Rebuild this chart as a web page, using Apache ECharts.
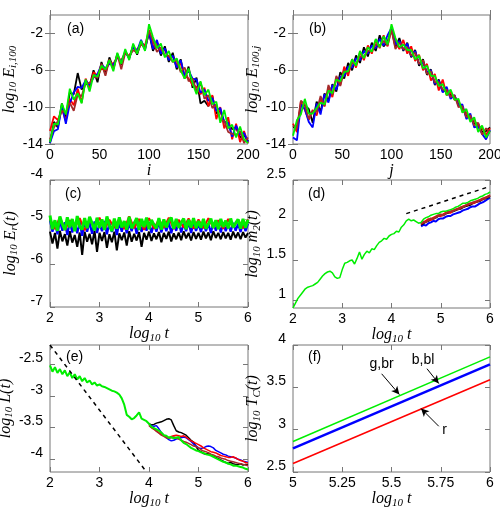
<!DOCTYPE html>
<html>
<head>
<meta charset="utf-8">
<script src="https://cdn.jsdelivr.net/npm/echarts@6/dist/echarts.min.js"></script>
<style>
  html, body { margin: 0; padding: 0; background: #fff; }
  #chart { width: 500px; height: 525px; }
</style>
</head>
<body>
<div id="chart"></div>
<script>
// ---- sample positions ----
const iIdx = [0,4,8,12,16,20,24,28,32,36,40,44,48,52,56,60,64,68,72,76,80,84,88,92,96,100,104,108,112,116,120,124,128,132,136,140,144,148,152,156,160,164,168,172,176,180,184,188,192,196,200];
const tFine = [2,2.05,2.1,2.15,2.2,2.25,2.3,2.35,2.4,2.45,2.5,2.55,2.6,2.65,2.7,2.75,2.8,2.85,2.9,2.95,3,3.05,3.1,3.15,3.2,3.25,3.3,3.35,3.4,3.45,3.5,3.55,3.6,3.65,3.7,3.75,3.8,3.85,3.9,3.95,4,4.05,4.1,4.15,4.2,4.25,4.3,4.35,4.4,4.45,4.5,4.55,4.6,4.65,4.7,4.75,4.8,4.85,4.9,4.95,5,5.05,5.1,5.15,5.2,5.25,5.3,5.35,5.4,5.45,5.5,5.55,5.6,5.65,5.7,5.75,5.8,5.85,5.9,5.95,6];
const tCoarse = tFine.filter((_, k) => k % 2 === 0);
const tLateD = tFine.slice(52);
const tLateE = tFine.slice(40);

// ---- (a) log10 E_{i,100} ----
const aBlack = [-13.9,-11.6,-12.2,-9.6,-11.2,-8.4,-8.6,-6.3,-8.1,-7.4,-7.7,-6.0,-7.3,-5.1,-6.4,-4.6,-5.8,-4.2,-5.4,-3.9,-4.7,-3.3,-4.3,-2.9,-3.6,-1.9,-3.9,-3.0,-4.4,-3.4,-5.1,-4.1,-5.9,-4.8,-6.9,-5.6,-7.9,-6.8,-9.6,-9.3,-9.9,-8.8,-10.7,-10.4,-11.6,-11.8,-12.4,-12.2,-13.3,-13.0,-13.7];
const aRed = [-12.6,-11.0,-11.4,-10.2,-11.5,-9.1,-9.8,-8.0,-9.5,-6.9,-7.9,-6.2,-6.6,-5.8,-6.0,-5.1,-5.3,-4.6,-4.9,-4.1,-4.5,-3.5,-3.8,-3.0,-3.3,-1.6,-3.4,-3.1,-3.9,-3.8,-4.7,-4.5,-5.4,-5.3,-6.6,-6.9,-7.6,-7.8,-8.6,-7.9,-9.9,-8.7,-11.3,-10.0,-12.3,-11.1,-13.5,-11.8,-13.8,-12.6,-13.9];
const aBlue = [-13.9,-12.6,-12.4,-9.8,-11.8,-9.6,-8.4,-7.8,-7.9,-7.1,-7.6,-6.8,-6.4,-5.4,-5.8,-5.3,-5.4,-4.6,-5.1,-4.0,-4.7,-3.5,-3.9,-2.7,-3.8,-1.8,-3.7,-2.7,-4.2,-3.6,-4.9,-4.4,-5.7,-4.9,-6.6,-6.0,-6.9,-7.0,-8.4,-8.1,-9.3,-9.0,-10.4,-10.1,-11.6,-11.7,-13.2,-12.0,-13.0,-12.8,-13.8];
const aBrown = [-13.5,-12.2,-11.5,-10.4,-10.6,-9.5,-10.4,-8.6,-8.8,-7.4,-7.4,-6.7,-6.8,-5.3,-6.6,-4.8,-5.9,-4.3,-5.9,-4.1,-4.5,-3.8,-4.1,-3.1,-3.7,-1.7,-2.8,-4.0,-3.5,-4.4,-4.4,-5.1,-4.9,-6.2,-5.7,-7.2,-6.9,-8.3,-7.3,-9.1,-8.7,-10.1,-9.7,-11.4,-11.5,-12.7,-12.9,-13.0,-12.6,-13.9,-13.3];
const aGreen = [-13.8,-11.8,-11.9,-9.6,-10.8,-8.0,-9.2,-8.5,-9.6,-7.0,-8.3,-6.5,-6.7,-5.5,-5.9,-4.9,-6.1,-4.1,-5.3,-3.7,-4.9,-3.1,-4.2,-2.8,-3.9,-1.0,-2.4,-3.6,-3.1,-4.6,-3.9,-5.1,-4.7,-6.0,-6.9,-5.8,-7.4,-8.6,-7.2,-8.7,-8.1,-9.7,-9.4,-11.7,-10.3,-12.3,-11.9,-13.3,-12.1,-13.5,-13.9];

// ---- (b) log10 E_{100,j} ----
const bBlack = [-12.2,-12.1,-9.9,-9.8,-10.2,-11.7,-9.4,-10.5,-8.5,-9.3,-7.5,-8.3,-6.2,-6.9,-5.2,-6.0,-4.4,-5.2,-3.5,-4.5,-3.0,-3.9,-2.2,-3.4,-2.9,-1.5,-3.5,-2.5,-3.9,-3.0,-4.6,-3.8,-5.5,-4.8,-6.5,-5.9,-7.6,-7.0,-8.3,-8.2,-8.7,-8.8,-9.7,-10.0,-11.0,-11.0,-11.8,-11.8,-12.7,-12.6,-12.2];
const bRed = [-11.8,-12.7,-9.4,-10.3,-11.4,-10.3,-10.9,-9.1,-9.9,-8.0,-8.9,-6.9,-7.6,-5.6,-6.6,-4.8,-5.7,-4.0,-4.9,-3.3,-4.2,-2.7,-3.6,-2.2,-3.4,-1.4,-2.8,-3.7,-2.7,-4.2,-3.4,-5.0,-4.3,-6.0,-5.3,-7.1,-6.4,-8.2,-7.0,-8.7,-8.4,-9.2,-9.3,-10.4,-10.6,-11.4,-11.4,-12.2,-12.3,-13.0,-12.3];
const bBlue = [-13.3,-13.6,-9.7,-10.2,-11.6,-12.2,-9.6,-10.8,-8.6,-9.5,-7.6,-8.1,-6.7,-6.6,-5.6,-5.7,-4.7,-4.9,-3.9,-4.2,-3.3,-3.6,-2.6,-3.3,-2.2,-1.4,-3.2,-2.8,-3.8,-3.1,-4.5,-3.9,-5.3,-5.2,-6.2,-6.0,-7.5,-7.1,-8.4,-7.8,-9.1,-8.7,-9.8,-9.7,-11.3,-10.7,-12.2,-12.1,-12.9,-13.5,-12.5];
const bBrown = [-12.0,-12.3,-9.3,-9.7,-11.3,-10.4,-10.5,-8.8,-9.9,-7.6,-8.7,-6.6,-7.7,-6.0,-6.2,-5.2,-5.3,-4.5,-4.5,-3.9,-3.9,-3.2,-3.3,-2.8,-3.3,-1.6,-3.7,-3.0,-3.7,-3.5,-4.4,-4.1,-5.3,-4.9,-6.4,-6.1,-7.3,-7.3,-8.1,-8.1,-8.9,-8.7,-10.0,-9.9,-11.1,-10.9,-12.0,-11.7,-13.0,-12.3,-12.7];
const bGreen = [-13.1,-11.4,-10.8,-9.1,-10.7,-10.7,-10.1,-9.5,-9.7,-8.2,-8.5,-7.0,-7.2,-6.2,-6.1,-4.8,-5.5,-3.9,-4.7,-3.5,-4.0,-2.6,-3.5,-2.3,-3.2,-1.0,-2.5,-3.5,-3.2,-3.8,-3.8,-4.8,-4.4,-5.8,-5.5,-6.6,-6.6,-7.7,-7.5,-8.7,-8.1,-9.2,-9.1,-10.6,-10.2,-11.6,-11.1,-12.7,-12.0,-13.3,-12.6];

// ---- (c) log10 E_r(t) ----
const cBlack = [-5.22,-5.50,-5.25,-5.62,-5.20,-5.45,-5.28,-5.55,-5.21,-5.48,-5.30,-5.58,-5.24,-5.77,-5.22,-5.46,-5.27,-5.52,-5.20,-5.70,-5.25,-5.44,-5.23,-5.60,-5.28,-5.47,-5.22,-5.66,-5.26,-5.42,-5.24,-5.55,-5.21,-5.46,-5.27,-5.43,-5.23,-5.58,-5.25,-5.41,-5.22,-5.44,-5.26,-5.40,-5.23,-5.47,-5.25,-5.39,-5.22,-5.45,-5.26,-5.40,-5.24,-5.42,-5.21,-5.38,-5.25,-5.43,-5.23,-5.39,-5.25,-5.41,-5.22,-5.38,-5.24,-5.42,-5.21,-5.37,-5.25,-5.40,-5.23,-5.38,-5.25,-5.41,-5.22,-5.37,-5.24,-5.40,-5.23,-5.36,-5.25];
const cBlue = [-4.95,-5.22,-4.98,-5.28,-4.96,-5.20,-5.00,-5.30,-4.97,-5.24,-5.01,-5.26,-4.99,-5.32,-4.96,-5.22,-5.00,-5.27,-4.98,-5.25,-5.02,-5.21,-4.97,-5.28,-5.01,-5.23,-4.99,-5.30,-5.00,-5.22,-4.98,-5.26,-5.02,-5.21,-4.99,-5.27,-5.01,-5.23,-4.98,-5.20,-5.00,-5.25,-5.03,-5.22,-4.99,-5.24,-5.02,-5.21,-5.00,-5.26,-5.02,-5.20,-4.99,-5.24,-5.03,-5.21,-5.00,-5.25,-5.02,-5.20,-5.04,-5.23,-5.00,-5.21,-5.03,-5.25,-5.01,-5.20,-5.02,-5.24,-5.00,-5.21,-5.04,-5.22,-5.01,-5.20,-5.03,-5.23,-5.02,-5.21,-5.03];
const cRed = [-4.92,-5.16,-4.88,-5.18,-4.95,-5.14,-4.90,-5.19,-4.93,-5.15,-4.89,-5.17,-4.94,-5.13,-4.91,-5.16,-4.86,-5.14,-4.92,-5.18,-4.90,-5.15,-4.93,-5.13,-4.89,-5.16,-4.94,-5.12,-4.91,-5.15,-4.93,-5.14,-4.90,-5.13,-4.95,-5.15,-4.92,-5.12,-4.94,-5.14,-4.93];
const cGreen = [-4.84,-5.16,-4.95,-5.20,-4.86,-5.05,-5.18,-4.88,-5.12,-4.92,-5.21,-4.85,-5.10,-5.17,-4.90,-5.14,-4.87,-5.02,-5.19,-4.89,
  -5.13,-4.93,-5.18,-4.86,-5.08,-5.21,-4.91,-5.15,-4.88,-5.12,-4.97,-5.17,-4.87,-5.14,-5.03,-4.90,-5.18,-4.92,-5.11,-4.89,
  -5.16,-4.94,-5.06,-5.14,-4.90,-5.17,-4.93,-5.12,-4.96,-4.89,-5.15,-4.92,-5.13,-5.01,-4.91,-5.16,-4.94,-5.12,-4.90,-5.14,
  -4.97,-5.13,-4.92,-5.15,-5.04,-4.91,-5.13,-4.95,-5.16,-4.92,-5.11,-4.96,-5.14,-4.91,-5.12,-5.02,-4.93,-5.15,-4.92,-5.13,
  -4.94];

// ---- (d) log10 m2(t) ----
const dGreen = [0.90,0.96,1.02,1.06,1.10,1.14,1.16,1.17,1.18,1.20,1.22,1.26,1.30,1.33,1.35,1.36,1.34,1.29,1.27,1.28,1.38,1.46,1.47,1.49,1.50,1.45,1.52,1.60,1.51,1.57,1.61,1.59,1.64,1.63,1.68,1.72,1.74,1.77,1.76,1.80,1.82,1.83,1.86,1.85,1.91,1.94,1.99,2.01,1.99,2.00,1.98,1.96,1.97,2.01,2.03,2.04,2.06,2.07,2.08,2.08,2.10,2.11,2.11,2.12,2.13,2.14,2.16,2.17,2.19,2.21,2.21,2.22,2.24,2.25,2.26,2.27,2.29,2.30,2.32,2.33,2.35];
const dBlue = [1.92,1.94,1.93,1.96,1.97,1.99,1.98,2.01,2.02,2.02,2.04,2.05,2.05,2.07,2.08,2.09,2.10,2.12,2.13,2.14,2.16,2.17,2.17,2.19,2.21,2.22,2.24,2.26,2.28];
const dRed = [1.95,1.97,1.99,2.01,2.00,2.03,2.04,2.06,2.05,2.07,2.09,2.10,2.09,2.12,2.13,2.14,2.15,2.17,2.18,2.19,2.21,2.21,2.22,2.24,2.25,2.26,2.28,2.29,2.31];
const dBlack = [1.94,1.96,1.98,1.99,2.01,2.02,2.03,2.05,2.06,2.06,2.08,2.09,2.10,2.11,2.12,2.14,2.14,2.16,2.17,2.18,2.19,2.21,2.22,2.23,2.24,2.26,2.27,2.28,2.30];
const dBrown = [1.95,1.98,1.97,2.00,2.02,2.01,2.04,2.05,2.07,2.06,2.08,2.10,2.11,2.11,2.13,2.13,2.16,2.16,2.18,2.20,2.20,2.22,2.23,2.23,2.25,2.27,2.27,2.29,2.30];
const dFitX = [4.3, 6];
const dFitY = [2.08, 2.42];

// ---- (e) log10 L(t) ----
const eGreen = [-2.52,-2.62,-2.55,-2.64,-2.58,-2.66,-2.60,-2.69,-2.63,-2.72,-2.66,-2.74,-2.69,-2.77,-2.72,-2.79,-2.76,-2.82,-2.79,-2.84,-2.82,-2.85,-2.86,-2.88,-2.90,-2.92,-2.93,-2.95,-2.98,-3.04,-3.14,-3.30,-3.33,-3.37,-3.35,-3.31,-3.26,-3.36,-3.38,-3.40,-3.44,-3.49,-3.51,-3.53,-3.55,-3.58,-3.62,-3.63,-3.66,-3.65,-3.67,-3.66,-3.65,-3.70,-3.74,-3.76,-3.79,-3.82,-3.84,-3.86,-3.87,-3.89,-3.90,-3.92,-3.93,-3.94,-3.96,-3.98,-4.00,-4.02,-4.04,-4.05,-4.07,-4.08,-4.10,-4.10,-4.11,-4.12,-4.13,-4.15,-4.16];
const eBlack = [-3.44,-3.46,-3.45,-3.43,-3.42,-3.41,-3.39,-3.37,-3.36,-3.38,-3.47,-3.55,-3.57,-3.58,-3.60,-3.62,-3.66,-3.70,-3.73,-3.80,-3.86,-3.88,-3.91,-3.92,-3.90,-3.93,-3.95,-3.97,-3.99,-4.01,-4.03,-4.05,-4.06,-4.05,-4.07,-4.08,-4.08,-4.07,-4.09,-4.08,-4.09];
const eBlue = [-3.45,-3.47,-3.48,-3.47,-3.52,-3.58,-3.62,-3.66,-3.69,-3.71,-3.70,-3.68,-3.67,-3.66,-3.65,-3.66,-3.69,-3.72,-3.76,-3.79,-3.82,-3.83,-3.82,-3.80,-3.79,-3.80,-3.82,-3.86,-3.88,-3.90,-3.92,-3.93,-3.95,-3.96,-3.97,-3.98,-4.00,-4.01,-4.03,-4.04,-4.05];
const eRed = [-3.46,-3.50,-3.53,-3.55,-3.58,-3.61,-3.63,-3.65,-3.66,-3.64,-3.63,-3.62,-3.63,-3.64,-3.63,-3.65,-3.68,-3.71,-3.73,-3.75,-3.77,-3.79,-3.82,-3.84,-3.86,-3.88,-3.89,-3.90,-3.92,-3.94,-3.95,-3.96,-3.97,-3.97,-3.96,-3.98,-4.00,-4.02,-4.03,-4.05,-4.06];
const eBrown = [-3.47,-3.50,-3.52,-3.56,-3.59,-3.62,-3.64,-3.66,-3.67,-3.66,-3.65,-3.66,-3.68,-3.70,-3.72,-3.73,-3.75,-3.77,-3.79,-3.80,-3.82,-3.85,-3.87,-3.88,-3.90,-3.92,-3.93,-3.95,-3.96,-3.98,-3.99,-4.00,-4.02,-4.03,-4.04,-4.05,-4.06,-4.07,-4.08,-4.09,-4.10];
const eFitX = [2, 3.95];
const eFitY = [-2.2, -4.2];

// ---- (f) log10 T_C(t) ----
const fX = [5, 6];
const fGreen = [2.86, 3.86];
const fBlue = [2.78, 3.77];
const fRed = [2.60, 3.59];
const noteText = ['g,br', 'b,bl', 'r'];
const noteX = [5.45, 5.66, 5.77];
const noteY = [3.77, 3.82, 2.99];
const arrowFromX = [5.45, 5.68, 5.74];
const arrowFromY = [3.66, 3.72, 3.04];
const arrowToX = [5.54, 5.74, 5.65];
const arrowToY = [3.415, 3.545, 3.25];

// ---- tick labels ----
const ticksI = [0, 50, 100, 150, 200];
const ticksE = [-14, -10, -6, -2];
const ticksT = [2, 3, 4, 5, 6];
const ticksC = [-7, -6, -5, -4];
const ticksD = [1, 1.5, 2, 2.5];
const ticksL = [-4, -3.5, -3, -2.5];
const ticksFx = [5, 5.25, 5.5, 5.75, 6];
const ticksFy = [2.5, 3, 3.5, 4];
const panelNames = ['(a)', '(b)', '(c)', '(d)', '(e)', '(f)'];

const BLACK = '#000000', RED = '#ff0000', BLUE = '#0000ff', BROWN = '#a52a2a', GREEN = '#00ee00';

const chart = echarts.init(document.getElementById('chart'), null, { renderer: 'canvas' });

const rich = {
  it: { fontFamily: 'Liberation Serif', fontStyle: 'italic', fontSize: 16, color: '#000' },
  sub: { fontFamily: 'Liberation Serif', fontStyle: 'italic', fontSize: 11, color: '#000', padding: [8, 0, 0, 0] }
};
const tName = '{it|log}{sub|10}{it| t}';

const grids = [
  { left: 50, top: 15, width: 198, height: 129 },
  { left: 293, top: 15, width: 197, height: 129 },
  { left: 50, top: 180, width: 198, height: 127 },
  { left: 293, top: 180, width: 197, height: 128 },
  { left: 50, top: 345, width: 198, height: 127 },
  { left: 293, top: 345, width: 197, height: 127 }
].map(g => Object.assign(g, { show: true, borderColor: '#777', borderWidth: 1, backgroundColor: 'transparent', containLabel: false, outerBoundsMode: 'none' }));

const frame = '#777';
function xAxis(g, min, max, ticks, name, gap, mirror) {
  return {
    type: 'value', gridIndex: g, min: min, max: max, position: mirror ? 'top' : 'bottom',
    name: mirror ? '' : name, nameLocation: 'middle', nameGap: gap,
    nameTextStyle: { rich: rich },
    axisLine: { show: false }, splitLine: { show: false },
    axisTick: { show: true, inside: true, length: 5, customValues: ticks, lineStyle: { color: frame } },
    axisLabel: { show: !mirror, customValues: ticks, fontFamily: 'Liberation Sans', fontSize: 14, color: '#000', margin: 4 }
  };
}
function yAxis(g, min, max, ticks, name, gap, lifted, mirror) {
  const label = { show: !mirror, customValues: ticks, fontFamily: 'Liberation Sans', fontSize: 14, color: '#000', margin: 7 };
  if (lifted) { label.verticalAlign = 'bottom'; label.lineHeight = 12; }
  return {
    type: 'value', gridIndex: g, min: min, max: max, position: mirror ? 'right' : 'left',
    name: mirror ? '' : name, nameLocation: 'middle', nameGap: gap, nameRotate: 90,
    nameTextStyle: { rich: rich },
    axisLine: { show: false }, splitLine: { show: false },
    axisTick: { show: true, inside: true, length: 5, customValues: ticks, lineStyle: { color: frame } },
    axisLabel: label
  };
}

const xSpec = [
  [0, 200, ticksI, '{it|i}', 2],
  [0, 200, ticksI, '{it|j}', 2],
  [2, 6, ticksT, tName, 7],
  [2, 6, ticksT, tName, 7],
  [2, 6, ticksT, tName, 7],
  [5, 6, ticksFx, tName, 7]
];
const ySpec = [
  [-14, 0, ticksE, '{it|log}{sub|10}{it| E}{sub|i,100}', 30, false],
  [-14, 0, ticksE, '{it|log}{sub|10}{it| E}{sub|100,j}', 30, false],
  [-7, -4, ticksC, '{it|log}{sub|10}{it| E}{sub|r}{it|(t)}', 30, true],
  [0.9, 2.5, ticksD, '{it|log}{sub|10}{it| m}{sub|2}{it|(t)}', 30, true],
  [-4.2, -2.2, ticksL, '{it|log}{sub|10}{it| L(t)}', 30, true],
  [2.5, 4, ticksFy, '{it|log}{sub|10}{it| T}{sub|C}{it|(t)}', 30, true]
];

const xAxes = xSpec.map((s, g) => xAxis(g, s[0], s[1], s[2], s[3], s[4], false))
  .concat(xSpec.map((s, g) => xAxis(g, s[0], s[1], s[2], s[3], s[4], true)));
const yAxes = ySpec.map((s, g) => yAxis(g, s[0], s[1], s[2], s[3], s[4], s[5], false))
  .concat(ySpec.map((s, g) => yAxis(g, s[0], s[1], s[2], s[3], s[4], s[5], true)));

function line(g, xs, ys, color, width, dashed) {
  return {
    type: 'line', xAxisIndex: g, yAxisIndex: g,
    data: xs.map((x, k) => [x, ys[k]]),
    showSymbol: false, symbol: 'none', animation: false, silent: true,
    lineStyle: { color: color, width: width, type: dashed ? [4, 4] : 'solid' },
    itemStyle: { color: color }
  };
}

const fRedLine = line(5, fX, fRed, RED, 1.5);
fRedLine.markPoint = {
  silent: true, animation: false, symbol: 'circle', symbolSize: 0,
  label: { show: true, position: 'inside', formatter: p => p.name, fontFamily: 'Liberation Sans', fontSize: 14, color: '#000', textBorderWidth: 0 },
  data: noteText.map((t, k) => ({ name: t, coord: [noteX[k], noteY[k]] }))
};
fRedLine.markLine = {
  silent: true, animation: false, symbol: ['none', 'arrow'], symbolSize: [6, 8],
  lineStyle: { color: '#000', width: 1, type: 'solid' }, label: { show: false },
  data: noteText.map((t, k) => [{ coord: [arrowFromX[k], arrowFromY[k]] }, { coord: [arrowToX[k], arrowToY[k]] }])
};

const series = [
  line(0, iIdx, aBlack, BLACK, 1.8), line(0, iIdx, aRed, RED, 1.8), line(0, iIdx, aBlue, BLUE, 1.8),
  line(0, iIdx, aBrown, BROWN, 1.8), line(0, iIdx, aGreen, GREEN, 1.8),
  line(1, iIdx, bBlack, BLACK, 1.8), line(1, iIdx, bRed, RED, 1.8), line(1, iIdx, bBlue, BLUE, 1.8),
  line(1, iIdx, bBrown, BROWN, 1.8), line(1, iIdx, bGreen, GREEN, 1.8),
  line(2, tFine, cBlack, BLACK, 2), line(2, tFine, cBlue, BLUE, 2.2),
  line(2, tCoarse, cRed, RED, 2), line(2, tFine, cGreen, GREEN, 3),
  line(3, tLateD, dBlue, BLUE, 2), line(3, tLateD, dBlack, BLACK, 2), line(3, tLateD, dRed, RED, 2),
  line(3, tLateD, dBrown, BROWN, 2), line(3, tFine, dGreen, GREEN, 1.5),
  line(3, dFitX, dFitY, BLACK, 1.5, true),
  line(4, tLateE, eBlack, BLACK, 1.5), line(4, tLateE, eBlue, BLUE, 1.5), line(4, tLateE, eRed, RED, 1.5),
  line(4, tLateE, eBrown, BROWN, 1.5), line(4, tFine, eGreen, GREEN, 2),
  line(4, eFitX, eFitY, BLACK, 1.5, true),
  fRedLine, line(5, fX, fBlue, BLUE, 2.5), line(5, fX, fGreen, GREEN, 1.5)
];

const panelPos = [[67, 22], [309, 22], [65, 187], [308, 187], [66, 350], [308, 350]];
const graphic = panelNames.map((s, k) => ({
  type: 'text', left: panelPos[k][0], top: panelPos[k][1], silent: true,
  style: { text: s, font: '14px "Liberation Sans"', fill: '#000' }
}));

chart.setOption({
  animation: false,
  backgroundColor: '#fff',
  grid: grids,
  xAxis: xAxes,
  yAxis: yAxes,
  series: series,
  graphic: graphic
});
</script>
</body>
</html>
